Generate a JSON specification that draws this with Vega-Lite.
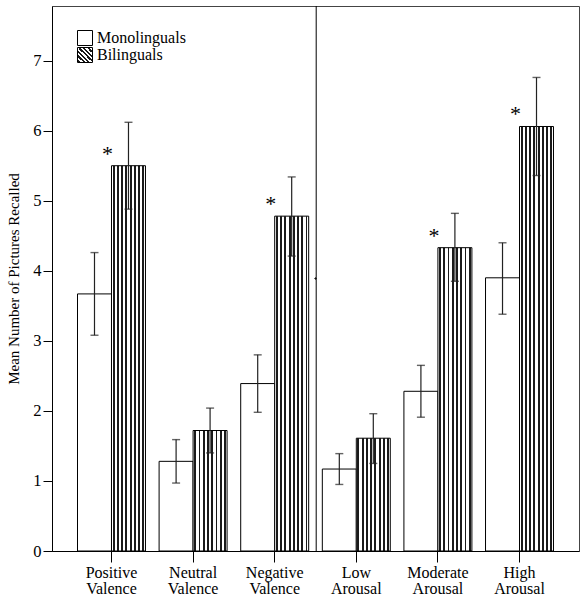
{
  "$schema": "https://vega.github.io/schema/vega-lite/v6.json",
  "autosize": {"type": "none"},
  "padding": {"left": 52, "top": 6, "right": 7, "bottom": 50},
  "width": 527,
  "height": 545,
  "background": "white",
  "config": {
    "view": {"stroke": "#444", "strokeWidth": 1},
    "font": "Liberation Serif"
  },
  "resolve": {"scale": {"stroke": "independent"}, "legend": {"stroke": "independent"}},
  "data": {
    "values": [
      {"category": "Positive Valence", "group": "Monolinguals", "mean": 3.67, "lo": 3.08, "hi": 4.26, "sig": false},
      {"category": "Positive Valence", "group": "Bilinguals", "mean": 5.5, "lo": 4.88, "hi": 6.12, "sig": true},
      {"category": "Neutral Valence", "group": "Monolinguals", "mean": 1.28, "lo": 0.97, "hi": 1.59, "sig": false},
      {"category": "Neutral Valence", "group": "Bilinguals", "mean": 1.72, "lo": 1.4, "hi": 2.04, "sig": false},
      {"category": "Negative Valence", "group": "Monolinguals", "mean": 2.39, "lo": 1.98, "hi": 2.8, "sig": false},
      {"category": "Negative Valence", "group": "Bilinguals", "mean": 4.78, "lo": 4.21, "hi": 5.34, "sig": true},
      {"category": "Low Arousal", "group": "Monolinguals", "mean": 1.17, "lo": 0.95, "hi": 1.39, "sig": false},
      {"category": "Low Arousal", "group": "Bilinguals", "mean": 1.61, "lo": 1.25, "hi": 1.96, "sig": false},
      {"category": "Moderate Arousal", "group": "Monolinguals", "mean": 2.28, "lo": 1.91, "hi": 2.65, "sig": false},
      {"category": "Moderate Arousal", "group": "Bilinguals", "mean": 4.33, "lo": 3.85, "hi": 4.82, "sig": true},
      {"category": "High Arousal", "group": "Monolinguals", "mean": 3.9, "lo": 3.38, "hi": 4.4, "sig": false},
      {"category": "High Arousal", "group": "Bilinguals", "mean": 6.06, "lo": 5.36, "hi": 6.76, "sig": true}
    ]
  },
  "layer": [
    {
      "data": {"values": [{"group": "Monolinguals"}]},
      "mark": {"type": "point", "shape": "square", "filled": true, "fill": "white", "strokeWidth": 1, "size": 1},
      "encoding": {
        "stroke": {
          "field": "group", "type": "nominal",
          "scale": {"domain": ["Monolinguals"], "range": ["black"]},
          "legend": {
            "orient": "none", "legendX": 25, "legendY": 24, "title": null, "padding": 0,
            "symbolType": "square", "symbolSize": 225, "symbolStrokeWidth": 1, "symbolOpacity": 1,
            "labelFont": "Liberation Serif", "labelFontSize": 16, "labelColor": "black", "labelOffset": 4
          }
        }
      }
    },
    {
      "data": {"values": [{"group": "Bilinguals"}]},
      "mark": {
        "type": "point", "shape": "square", "filled": true, "strokeWidth": 1, "size": 1,
        "fill": {"gradient": "linear", "x1": 0, "y1": 1, "x2": 1, "y2": 0, "stops": [
          {"offset": 0, "color": "white"},
          {"offset": 0.05, "color": "white"}, {"offset": 0.05, "color": "#1a1a1a"},
          {"offset": 0.12, "color": "#1a1a1a"}, {"offset": 0.12, "color": "white"},
          {"offset": 0.2, "color": "white"}, {"offset": 0.2, "color": "#1a1a1a"},
          {"offset": 0.27, "color": "#1a1a1a"}, {"offset": 0.27, "color": "white"},
          {"offset": 0.35, "color": "white"}, {"offset": 0.35, "color": "#1a1a1a"},
          {"offset": 0.42, "color": "#1a1a1a"}, {"offset": 0.42, "color": "white"},
          {"offset": 0.5, "color": "white"}, {"offset": 0.5, "color": "#1a1a1a"},
          {"offset": 0.57, "color": "#1a1a1a"}, {"offset": 0.57, "color": "white"},
          {"offset": 0.65, "color": "white"}, {"offset": 0.65, "color": "#1a1a1a"},
          {"offset": 0.72, "color": "#1a1a1a"}, {"offset": 0.72, "color": "white"},
          {"offset": 0.8, "color": "white"}, {"offset": 0.8, "color": "#1a1a1a"},
          {"offset": 0.87, "color": "#1a1a1a"}, {"offset": 0.87, "color": "white"},
          {"offset": 1, "color": "white"}
        ]}
      },
      "encoding": {
        "stroke": {
          "field": "group", "type": "nominal",
          "scale": {"domain": ["Bilinguals"], "range": ["black"]},
          "legend": {
            "orient": "none", "legendX": 25, "legendY": 41, "title": null, "padding": 0,
            "symbolType": "square", "symbolSize": 225, "symbolStrokeWidth": 1, "symbolOpacity": 1,
            "labelFont": "Liberation Serif", "labelFontSize": 16, "labelColor": "black", "labelOffset": 4
          }
        }
      }
    },
    {
      "mark": {"type": "bar", "strokeWidth": 1, "stroke": "black"},
      "encoding": {
        "x": {
          "field": "category", "type": "nominal",
          "scale": {"domain": ["Positive Valence", "Neutral Valence", "Negative Valence", "Low Arousal", "Moderate Arousal", "High Arousal"], "paddingInner": 0.167, "paddingOuter": 0.3125},
          "axis": {
            "title": null, "labelAngle": 0, "tickSize": 11, "tickColor": "black", "domainColor": "black",
            "labelExpr": "split(datum.label, ' ')", "labelLineHeight": 16.5, "labelPadding": 2,
            "labelFont": "Liberation Serif", "labelFontSize": 16, "labelColor": "black"
          }
        },
        "xOffset": {"field": "group", "type": "nominal", "scale": {"domain": ["Monolinguals", "Bilinguals"], "paddingInner": 0, "paddingOuter": 0}},
        "y": {
          "field": "mean", "type": "quantitative",
          "scale": {"domain": [0, 7.78], "nice": false, "zero": true},
          "axis": {
            "title": "Mean Number of Pictures Recalled", "values": [0, 1, 2, 3, 4, 5, 6, 7], "format": "d", "grid": false,
            "tickSize": 9, "tickColor": "black", "domainColor": "black",
            "labelFont": "Liberation Serif", "labelFontSize": 16.5, "labelColor": "black", "labelPadding": 2,
            "titleFont": "Liberation Serif", "titleFontSize": 15, "titleFontWeight": "normal", "titleColor": "black", "titlePadding": 11
          }
        },
        "fill": {
          "condition": {
            "test": "datum.group === 'Monolinguals'",
            "value": "white"
          },
          "value": {"gradient": "linear", "x1": 0, "y1": 0, "x2": 1, "y2": 0, "stops": [
            {"offset": 0, "color": "white"},
            {"offset": 0.035, "color": "white"}, {"offset": 0.035, "color": "#1a1a1a"},
            {"offset": 0.09, "color": "#1a1a1a"}, {"offset": 0.09, "color": "white"},
            {"offset": 0.16, "color": "white"}, {"offset": 0.16, "color": "#1a1a1a"},
            {"offset": 0.215, "color": "#1a1a1a"}, {"offset": 0.215, "color": "white"},
            {"offset": 0.285, "color": "white"}, {"offset": 0.285, "color": "#1a1a1a"},
            {"offset": 0.34, "color": "#1a1a1a"}, {"offset": 0.34, "color": "white"},
            {"offset": 0.41, "color": "white"}, {"offset": 0.41, "color": "#1a1a1a"},
            {"offset": 0.465, "color": "#1a1a1a"}, {"offset": 0.465, "color": "white"},
            {"offset": 0.535, "color": "white"}, {"offset": 0.535, "color": "#1a1a1a"},
            {"offset": 0.59, "color": "#1a1a1a"}, {"offset": 0.59, "color": "white"},
            {"offset": 0.66, "color": "white"}, {"offset": 0.66, "color": "#1a1a1a"},
            {"offset": 0.715, "color": "#1a1a1a"}, {"offset": 0.715, "color": "white"},
            {"offset": 0.785, "color": "white"}, {"offset": 0.785, "color": "#1a1a1a"},
            {"offset": 0.84, "color": "#1a1a1a"}, {"offset": 0.84, "color": "white"},
            {"offset": 0.91, "color": "white"}, {"offset": 0.91, "color": "#1a1a1a"},
            {"offset": 0.965, "color": "#1a1a1a"}, {"offset": 0.965, "color": "white"},
            {"offset": 1, "color": "white"}
          ]}
        }
      }
    },
    {
      "mark": {"type": "rule", "color": "#222", "strokeWidth": 1.2},
      "encoding": {
        "x": {"field": "category", "type": "nominal", "scale": {"domain": ["Positive Valence", "Neutral Valence", "Negative Valence", "Low Arousal", "Moderate Arousal", "High Arousal"]}},
        "xOffset": {"field": "group", "type": "nominal", "scale": {"domain": ["Monolinguals", "Bilinguals"]}},
        "y": {"field": "lo", "type": "quantitative"},
        "y2": {"field": "hi"}
      }
    },
    {
      "mark": {"type": "tick", "color": "#222", "thickness": 1.4, "size": 8, "orient": "horizontal"},
      "encoding": {
        "x": {"field": "category", "type": "nominal", "scale": {"domain": ["Positive Valence", "Neutral Valence", "Negative Valence", "Low Arousal", "Moderate Arousal", "High Arousal"]}},
        "xOffset": {"field": "group", "type": "nominal", "scale": {"domain": ["Monolinguals", "Bilinguals"]}},
        "y": {"field": "lo", "type": "quantitative"}
      }
    },
    {
      "mark": {"type": "tick", "color": "#222", "thickness": 1.4, "size": 8, "orient": "horizontal"},
      "encoding": {
        "x": {"field": "category", "type": "nominal", "scale": {"domain": ["Positive Valence", "Neutral Valence", "Negative Valence", "Low Arousal", "Moderate Arousal", "High Arousal"]}},
        "xOffset": {"field": "group", "type": "nominal", "scale": {"domain": ["Monolinguals", "Bilinguals"]}},
        "y": {"field": "hi", "type": "quantitative"}
      }
    },
    {
      "transform": [{"filter": "datum.sig"}],
      "mark": {"type": "text", "text": "*", "font": "Liberation Serif", "fontSize": 22, "color": "black", "dx": -21, "dy": -5, "baseline": "alphabetic", "align": "center"},
      "encoding": {
        "x": {"field": "category", "type": "nominal", "scale": {"domain": ["Positive Valence", "Neutral Valence", "Negative Valence", "Low Arousal", "Moderate Arousal", "High Arousal"]}},
        "xOffset": {"field": "group", "type": "nominal", "scale": {"domain": ["Monolinguals", "Bilinguals"]}},
        "y": {"field": "mean", "type": "quantitative"}
      }
    },
    {
      "data": {"values": [{"divider": "Low Arousal"}]},
      "mark": {"type": "rule", "color": "black", "strokeWidth": 1},
      "encoding": {
        "x": {"field": "divider", "type": "nominal", "bandPosition": -0.09, "scale": {"domain": ["Positive Valence", "Neutral Valence", "Negative Valence", "Low Arousal", "Moderate Arousal", "High Arousal"]}}
      }
    }
  ]
}
